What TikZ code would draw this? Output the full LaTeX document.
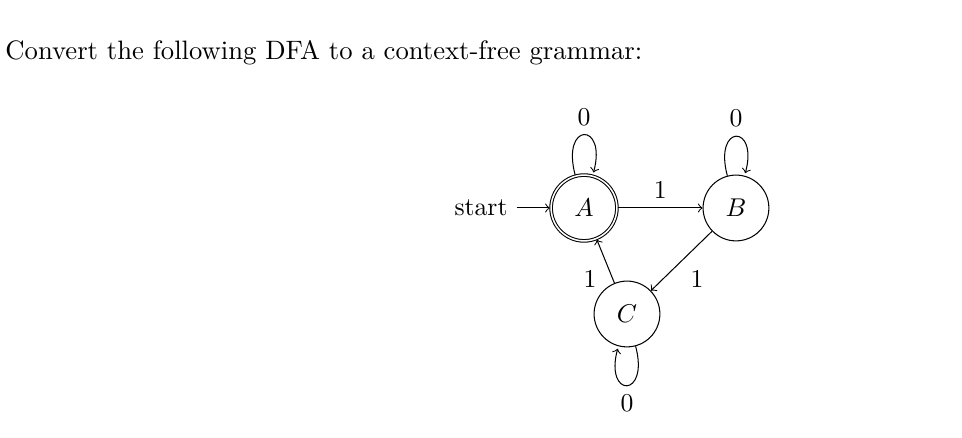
\documentclass[tikz,border=0pt]{standalone}
\usetikzlibrary{automata}

\begin{document}
\begin{tikzpicture}[
  every state/.style={draw, minimum size=0.9cm, inner sep=0pt},
]
\useasboundingbox (0,0) rectangle (13.16,-5.99);
% Question
\node[anchor=base west, inner sep=0pt, font=\fontsize{10.37}{12.4}\selectfont] (title) at (0.068,-0.807) {Convert the following DFA to a context-free grammar:};

% States
\node[state, initial, accepting] (A) at (7.989,-2.845) {$A$};
\node[state] (B) at (10.068,-2.845) {$B$};
\node[state] (C) at (8.577,-4.295) {$C$};

% Transitions
\path[->] (A) edge[loop above] node{0} ()
              edge node[above]{1} (B)
          (B) edge[loop above] node{0} ()
              edge node[below right]{1} (C)
          (C) edge[loop below] node{0} ()
              edge node[below left]{1} (A);
\end{tikzpicture}
\end{document}
